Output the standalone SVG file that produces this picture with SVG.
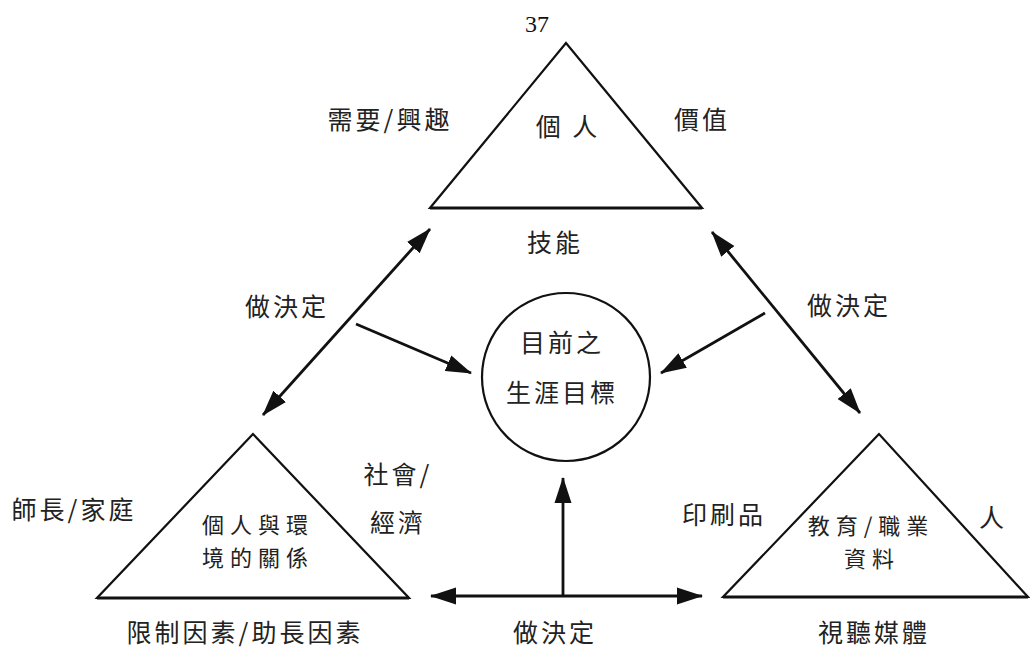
<svg xmlns="http://www.w3.org/2000/svg" width="1030" height="650" viewBox="0 0 1030 650">
  <style>
    .shape { fill: #fff; stroke: #111; stroke-width: 2.2; stroke-linejoin: miter; }
    .base { stroke: #111; stroke-width: 3.2; }
    .conn { stroke: #111; stroke-width: 2.8; fill: none; }
    .lbl { font-family: "Noto Sans CJK TC", "Noto Sans CJK SC", sans-serif; font-size: 25px; fill: #222; letter-spacing: 3px; text-anchor: middle; }
    .tight { font-size: 22px; letter-spacing: 6px; }
    .num { font-family: "Liberation Serif", serif; font-size: 24px; fill: #111; text-anchor: middle; }
  </style>
  <defs>
    <marker id="ah" markerUnits="userSpaceOnUse" markerWidth="26" markerHeight="18" refX="25" refY="8.5" orient="auto-start-reverse" viewBox="0 0 26 17">
      <path d="M0,0 L26,8.5 L0,17 z" fill="#111"/>
    </marker>
  </defs>
  <rect width="1030" height="650" fill="#fff"/>

  <text class="num" x="537" y="32">37</text>

  <g id="node-individual">
    <polygon class="shape" points="566,43 430,208 702,208"/>
    <line class="base" x1="430" y1="208" x2="702" y2="208"/>
    <text class="lbl" x="568" y="136">個 人</text>
    <text class="lbl" x="390" y="129">需要/興趣</text>
    <text class="lbl" x="702" y="129">價值</text>
    <text class="lbl" x="555" y="252">技能</text>
  </g>

  <g id="node-goal">
    <circle class="shape" cx="566" cy="377" r="84"/>
    <text class="lbl" x="562" y="352">目前之</text>
    <text class="lbl" x="562" y="402">生涯目標</text>
  </g>

  <g id="node-environment">
    <polygon class="shape" points="253,434 97,598 409,598"/>
    <line class="base" x1="97" y1="598" x2="409" y2="598"/>
    <text class="lbl tight" x="258" y="533">個人與環</text>
    <text class="lbl tight" x="258" y="566">境的關係</text>
    <text class="lbl" x="74" y="519">師長/家庭</text>
    <text class="lbl" x="398" y="484">社會/</text>
    <text class="lbl" x="398" y="532">經濟</text>
    <text class="lbl" x="245" y="642">限制因素/助長因素</text>
  </g>

  <g id="node-information">
    <polygon class="shape" points="879,434 723,597 1028,597"/>
    <line class="base" x1="723" y1="597" x2="1028" y2="597"/>
    <text class="lbl tight" x="871" y="534">教育/職業</text>
    <text class="lbl tight" x="872" y="567">資料</text>
    <text class="lbl" x="724" y="524">印刷品</text>
    <text class="lbl" x="993" y="527">人</text>
    <text class="lbl" x="874" y="642">視聽媒體</text>
  </g>

  <g id="connectors">
    <line class="conn" x1="430" y1="229" x2="263" y2="415" marker-start="url(#ah)" marker-end="url(#ah)"/>
    <line class="conn" x1="712" y1="232" x2="860" y2="413" marker-start="url(#ah)" marker-end="url(#ah)"/>
    <line class="conn" x1="356" y1="324" x2="471" y2="373" marker-end="url(#ah)"/>
    <line class="conn" x1="765" y1="313" x2="661" y2="373" marker-end="url(#ah)"/>
    <line class="conn" x1="431" y1="596" x2="702" y2="596" marker-start="url(#ah)" marker-end="url(#ah)"/>
    <line class="conn" x1="563" y1="596" x2="563" y2="478" marker-end="url(#ah)"/>
    <text class="lbl" x="287" y="316">做決定</text>
    <text class="lbl" x="849" y="315">做決定</text>
    <text class="lbl" x="555" y="642">做決定</text>
  </g>
</svg>
